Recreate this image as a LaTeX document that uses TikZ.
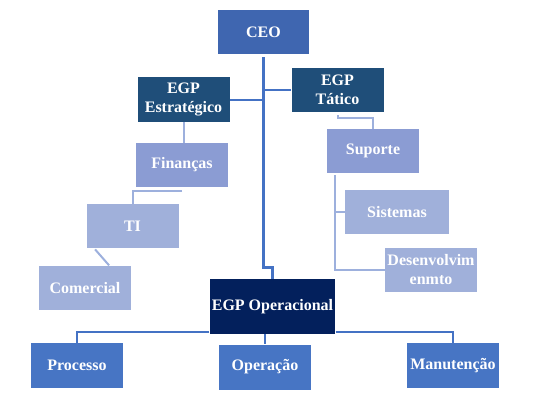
\documentclass[tikz,border=0pt]{standalone}
\usepackage{fontspec}
\setmainfont{Liberation Serif}
\usetikzlibrary{positioning}
\definecolor{ceoBlue}{HTML}{3F66B0}
\definecolor{egpBlue}{HTML}{1F4E79}
\definecolor{opNavy}{HTML}{03205C}
\definecolor{midBlue}{HTML}{8B9CD3}
\definecolor{lightBlue}{HTML}{A0B0DA}
\definecolor{unitBlue}{HTML}{4775C4}
\definecolor{trunkBlue}{HTML}{4472C4}
\definecolor{branchBlue}{HTML}{9DB0DD}
\tikzstyle{orgBox} = [rectangle, text centered, align=center, text=white, inner sep=1pt, minimum width=46pt, minimum height=22pt, font=\bfseries\fontsize{8}{9.5}\selectfont]
\tikzstyle{trunk} = [draw=trunkBlue, line width=1.4pt]
\tikzstyle{stem} = [draw=trunkBlue, line width=1pt]
\tikzstyle{branch} = [draw=branchBlue, line width=1pt]

\begin{document}
\begin{tikzpicture}[x=0.5pt,y=-0.5pt]
		\useasboundingbox (0,0) rectangle (550,401);
		% top level
		\node [orgBox,fill=ceoBlue,minimum width=45.5pt](ceo) at (263.5,32){CEO};
		\node [orgBox,fill=egpBlue](estr) at (183.5,99.5){EGP\\Estratégico};
		\node [orgBox,fill=egpBlue](tat) at (337.5,90){EGP\\Tático};
		\node [orgBox,fill=opNavy,minimum width=62pt,minimum height=27.5pt](egpOp) at (272.5,306.5){EGP Operacional};
		
		% left chain
		\node [orgBox,fill=midBlue](fin) at (182,165){Finanças};
		\node [orgBox,fill=lightBlue](ti) at (132.5,226){TI};
		\node [orgBox,fill=lightBlue](com) at (85,288){Comercial};
		
		% right chain
		\node [orgBox,fill=midBlue](sup) at (373,151){Suporte};
		\node [orgBox,fill=lightBlue,minimum width=52pt](sis) at (397,212){Sistemas};
		\node [orgBox,fill=lightBlue](dev) at (431,270){Desenvolvim\\enmto};
		
		% bottom row
		\node [orgBox,fill=unitBlue,minimum height=22.5pt](proc) at (77,365.5){Processo};
		\node [orgBox,fill=unitBlue,minimum height=22.5pt](oper) at (265,367){Operação};
		\node [orgBox,fill=unitBlue,minimum height=22.5pt](man) at (453,365.5){Manutenção};
		
		% connectors
		\draw [trunk] (ceo.south) ++(0,3) -- ++(0,210) -| (egpOp.north);
		\draw [stem] (estr.east) -- (estr.east -| ceo.south);
		\draw [stem] (tat.west) -- (tat.west -| ceo.south);
		\draw [branch] (estr.south) -- (estr.south |- fin.north);
		\draw [branch] (fin.south) ++(0,4) -| (ti.north);
		\draw [branch] (ti.south west) ++(9,1) -- ++(14,16);
		\draw [branch] (tat.south) ++(0,3) -- ++(0,3) -| (sup.north);
		\coordinate (supStem) at (335,175);
		\draw [branch] (supStem) |- (sis.west);
		\draw [branch] (supStem) |- (dev.west);
		\draw [stem] (egpOp.west |- 0,332) -| (proc.north);
		\draw [stem] (egpOp.east |- 0,332) -| (man.north);
		\draw [stem] (egpOp.south -| oper.north) -- (oper.north);
		
		\end{tikzpicture}
\end{document}
